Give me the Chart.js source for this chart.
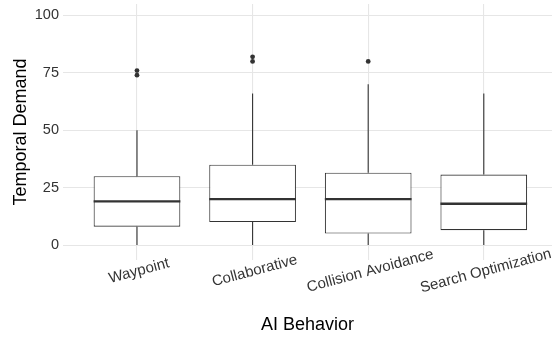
<!DOCTYPE html>
<html>
<head>
<meta charset="utf-8">
<title>Temporal Demand by AI Behavior</title>
<script src="https://cdn.jsdelivr.net/npm/chart.js@4/dist/chart.umd.min.js"></script>
<style>
  html, body { margin: 0; padding: 0; background: #ffffff; }
  #wrap { width: 556px; height: 341px; }
</style>
</head>
<body>
<div id="wrap"><canvas id="chart" width="556" height="341"></canvas></div>
<script>
// Box-plot summaries of temporal demand per AI behaviour
const categories = ['Waypoint', 'Collaborative', 'Collision Avoidance', 'Search Optimization'];
const lowerWhisker = [0, 0, 0, 0];
const q1 = [8, 10, 5, 6.5];
const median = [19, 20, 20, 18];
const q3 = [30, 35, 31.5, 30.7];
const upperWhisker = [50, 66, 70, 66];
const outliers = [[74, 76], [80, 82], [80], []];
const yTicks = [0, 25, 50, 75, 100];

const BOX_WIDTH = 0.75;          // fraction of the category spacing
const HALF = BOX_WIDTH / 2;
const INK = '#333333';
const GRID = '#E6E6E6';
const FONT = "'Liberation Sans', Arial, Helvetica, sans-serif";

const boxData = categories.map((c, i) => ({ x: i, y: [q1[i], q3[i]] }));

const whiskerData = [];
categories.forEach((c, i) => {
  whiskerData.push({ x: i, y: q3[i] }, { x: i, y: upperWhisker[i] }, { x: i, y: null });
  whiskerData.push({ x: i, y: lowerWhisker[i] }, { x: i, y: q1[i] }, { x: i, y: null });
});

const medianData = [];
categories.forEach((c, i) => {
  medianData.push({ x: i - HALF, y: median[i] }, { x: i + HALF, y: median[i] }, { x: i + HALF, y: null });
});

const outlierData = [];
outliers.forEach((vals, i) => vals.forEach(v => outlierData.push({ x: i, y: v })));

// Category names under the panel, tilted and centred on their tick
const tiltedCategoryLabels = {
  id: 'tiltedCategoryLabels',
  afterDraw(chart) {
    const { ctx, scales: { x } } = chart;
    ctx.save();
    ctx.font = '15px ' + FONT;
    ctx.fillStyle = INK;
    ctx.textAlign = 'center';
    ctx.textBaseline = 'middle';
    categories.forEach((label, i) => {
      const px = x.getPixelForValue(i) + 2;
      const py = x.top + 11;
      ctx.save();
      ctx.translate(px, py);
      ctx.rotate(-15 * Math.PI / 180);
      ctx.fillText(label, 0, 0);
      ctx.restore();
    });
    ctx.restore();
  }
};

new Chart(document.getElementById('chart'), {
  type: 'bar',
  data: {
    datasets: [
      {
        type: 'line',
        label: 'Median',
        data: medianData,
        borderColor: INK,
        borderWidth: 2.3,
        borderCapStyle: 'butt',
        pointRadius: 0,
        showLine: true,
        spanGaps: false,
        order: 0
      },
      {
        type: 'line',
        label: 'Outliers',
        data: outlierData,
        showLine: false,
        pointRadius: 2.4,
        pointBackgroundColor: INK,
        pointBorderWidth: 0,
        order: 1
      },
      {
        type: 'line',
        label: 'Whiskers',
        data: whiskerData,
        borderColor: INK,
        borderWidth: 1.1,
        pointRadius: 0,
        showLine: true,
        spanGaps: false,
        order: 2
      },
      {
        type: 'bar',
        label: 'Interquartile range',
        data: boxData,
        backgroundColor: '#ffffff',
        borderColor: INK,
        borderWidth: 1.1,
        borderSkipped: false,
        barPercentage: BOX_WIDTH,
        categoryPercentage: 1,
        order: 3
      }
    ]
  },
  options: {
    responsive: false,
    animation: false,
    devicePixelRatio: 1,
    layout: { padding: { top: 4, right: 0, bottom: 0, left: 0 } },
    plugins: {
      legend: { display: false },
      tooltip: { enabled: false }
    },
    scales: {
      x: {
        type: 'linear',
        min: -0.64,
        max: 3.59,
        offset: false,
        afterBuildTicks(scale) { scale.ticks = categories.map((c, i) => ({ value: i })); },
        afterFit(scale) {
          scale.height = 81;
          scale.paddingLeft = 0;
          scale.paddingRight = 0;
        },
        ticks: { display: false },
        grid: { color: GRID, lineWidth: 1.1, drawTicks: false, offset: false },
        border: { display: false },
        title: {
          display: true,
          text: 'AI Behavior',
          color: '#000000',
          font: { family: FONT, size: 18 },
          padding: { top: 0, bottom: 5 }
        }
      },
      y: {
        type: 'linear',
        min: -6.5,
        max: 105,
        afterBuildTicks(scale) { scale.ticks = yTicks.map(v => ({ value: v })); },
        afterFit(scale) {
          scale.width = 63;
          scale.paddingTop = 0;
          scale.paddingBottom = 0;
        },
        ticks: {
          color: INK,
          padding: 4,
          font: { family: FONT, size: 14.5 }
        },
        grid: { color: GRID, lineWidth: 1.1, drawTicks: false },
        border: { display: false },
        title: {
          display: true,
          text: 'Temporal Demand',
          color: '#000000',
          font: { family: FONT, size: 18 },
          padding: { top: 10, bottom: 0 }
        }
      }
    }
  },
  plugins: [tiltedCategoryLabels]
});
</script>
</body>
</html>
